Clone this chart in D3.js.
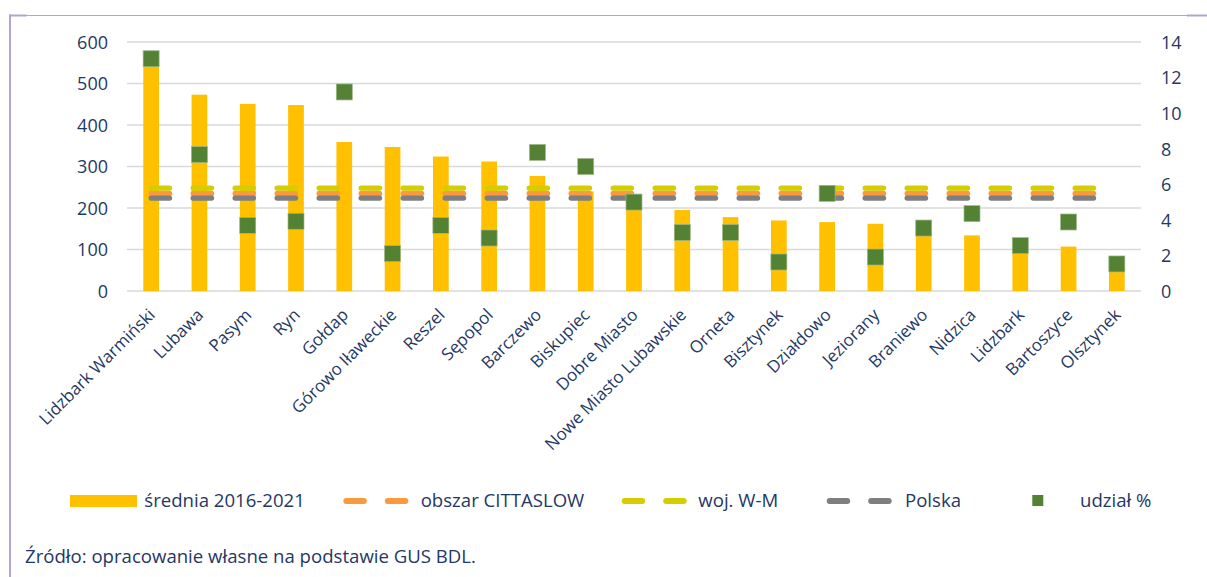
<!DOCTYPE html>
<html>
<head>
<meta charset="utf-8">
<script src="https://cdn.jsdelivr.net/npm/d3@7"></script>
<style>
  html, body { margin: 0; padding: 0; background: #fff; }
  svg { display: block; font-family: "Open Sans", sans-serif; }
</style>
</head>
<body>
<svg id="chart" width="1207" height="577"></svg>
<script>
// ---- data ----
const categories = ["Lidzbark Warmiński", "Lubawa", "Pasym", "Ryn", "Gołdap", "Górowo Iławeckie",
  "Reszel", "Sępopol", "Barczewo", "Biskupiec", "Dobre Miasto", "Nowe Miasto Lubawskie", "Orneta",
  "Bisztynek", "Działdowo", "Jeziorany", "Braniewo", "Nidzica", "Lidzbark", "Bartoszyce", "Olsztynek"];
const average = [560, 473, 451, 448, 359, 347, 324, 312, 277, 240, 215, 195, 178, 170, 166, 162, 145, 134, 115, 107, 60];
const share = [13.06, 7.67, 3.69, 3.92, 11.19, 2.10, 3.69, 2.98, 7.79, 7.00, 5.00, 3.29, 3.29, 1.63, 5.49, 1.91, 3.54, 4.35, 2.55, 3.88, 1.52];
const cittaslowLevel = 235;
const wojLevel = 248;
const polskaLevel = 224;
const leftTicks = [0, 100, 200, 300, 400, 500, 600];
const rightTicks = [0, 2, 4, 6, 8, 10, 12, 14];
const legendLabels = ["średnia 2016-2021", "obszar CITTASLOW", "woj. W-M", "Polska", "udział %"];
const sourceText = "Źródło: opracowanie własne na podstawie GUS BDL.";

// ---- styles ----
const textColor = "#1f3864";
const barColor = "#ffc000";
const orange = "#fb9a3c";
const yellow = "#d5cd00";
const gray = "#7f7f7f";
const green = "#548235";
const frameColor = "#b4a3cc";

const svg = d3.select("#chart");

// frame
svg.append("line").attr("x1", 10).attr("x2", 1207).attr("y1", 15.5).attr("y2", 15.5)
  .attr("stroke", frameColor).attr("stroke-width", 1.2);
svg.append("line").attr("x1", 10).attr("x2", 10).attr("y1", 14.5).attr("y2", 577)
  .attr("stroke", frameColor).attr("stroke-width", 2);
svg.append("line").attr("x1", 9).attr("x2", 26.5).attr("y1", 15.5).attr("y2", 15.5)
  .attr("stroke", frameColor).attr("stroke-width", 2);
svg.append("line").attr("x1", 1187).attr("x2", 1207).attr("y1", 15.5).attr("y2", 15.5)
  .attr("stroke", frameColor).attr("stroke-width", 2);

const plot = { left: 127, right: 1141, top: 42, bottom: 291 };

const x = d3.scaleBand().domain(categories)
  .range([plot.left, plot.right]).paddingInner(0.675).paddingOuter(0.3375);
const yL = d3.scaleLinear().domain([0, 600]).range([plot.bottom, plot.top]);
const yR = d3.scaleLinear().domain([0, 14]).range([plot.bottom, plot.top]);
const cx = d => x(d) + x.bandwidth() / 2;

// gridlines
svg.append("g").selectAll("line").data(leftTicks).join("line")
  .attr("x1", plot.left).attr("x2", plot.right)
  .attr("y1", d => yL(d)).attr("y2", d => yL(d))
  .attr("stroke", "#d9d9d9").attr("stroke-width", 1.6);

// left axis
const axL = svg.append("g").attr("transform", `translate(${plot.left - 19},0)`)
  .call(d3.axisLeft(yL).tickValues(leftTicks).tickSize(0).tickPadding(0));
axL.select(".domain").remove();
axL.selectAll("text").attr("fill", textColor).style("font-size", "18px")
  .style("font-family", "'Open Sans', sans-serif").attr("dy", "0.35em");

// right axis
const axR = svg.append("g").attr("transform", `translate(${1161},0)`)
  .call(d3.axisRight(yR).tickValues(rightTicks).tickSize(0).tickPadding(0));
axR.select(".domain").remove();
axR.selectAll("text").attr("fill", textColor).style("font-size", "18px")
  .style("font-family", "'Open Sans', sans-serif").attr("dy", "0.35em");

// bars
svg.append("g").selectAll("rect").data(categories).join("rect")
  .attr("x", d => x(d)).attr("width", x.bandwidth())
  .attr("y", (d, i) => yL(average[i]))
  .attr("height", (d, i) => yL(0) - yL(average[i]))
  .attr("fill", barColor);

// reference dashed lines
const dash = "18.4 23.6";
function refLine(level, color) {
  const line = d3.line().x(d => cx(d)).y(() => yL(level));
  svg.append("path").datum(categories).attr("d", line)
    .attr("fill", "none").attr("stroke", color).attr("stroke-width", 5.3)
    .attr("stroke-linecap", "round").attr("stroke-dasharray", dash);
}
refLine(cittaslowLevel, orange);
refLine(wojLevel, yellow);
refLine(polskaLevel, gray);

// markers
const ms = 16;
svg.append("g").selectAll("rect").data(categories).join("rect")
  .attr("x", d => cx(d) - ms / 2).attr("y", (d, i) => yR(share[i]) - ms / 2)
  .attr("width", ms).attr("height", ms)
  .attr("fill", green).attr("stroke", "#9fb98a").attr("stroke-width", 0.7);

// x labels
svg.append("g").selectAll("text").data(categories).join("text")
  .attr("transform", d => `translate(${cx(d) + 5},${316}) rotate(-45)`)
  .attr("text-anchor", "end")
  .attr("fill", textColor).style("font-size", "17px")
  .text(d => d);

// legend
const lg = svg.append("g");
const ly = 501;
lg.append("rect").attr("x", 70).attr("y", 495).attr("width", 67).attr("height", 12).attr("fill", barColor);
const legLine = (x0, color) => {
  [0, 41.5].forEach(off => {
    lg.append("line").attr("x1", x0 + off + 3).attr("x2", x0 + off + 20.5)
      .attr("y1", ly).attr("y2", ly).attr("stroke", color).attr("stroke-width", 6)
      .attr("stroke-linecap", "round");
  });
};
legLine(343.3, orange);
legLine(621.7, yellow);
legLine(826.7, gray);
lg.append("rect").attr("x", 1032.3).attr("y", 495).attr("width", 11).attr("height", 11).attr("fill", green);
const legTextX = [144.3, 420.7, 698.3, 905, 1080];
lg.selectAll("text").data(legendLabels).join("text")
  .attr("x", (d, i) => legTextX[i]).attr("y", 507)
  .attr("fill", textColor).style("font-size", "18.6px").text(d => d);

// source
svg.append("text").attr("x", 25).attr("y", 563).attr("fill", textColor)
  .style("font-size", "18.6px").text(sourceText);
</script>
</body>
</html>
